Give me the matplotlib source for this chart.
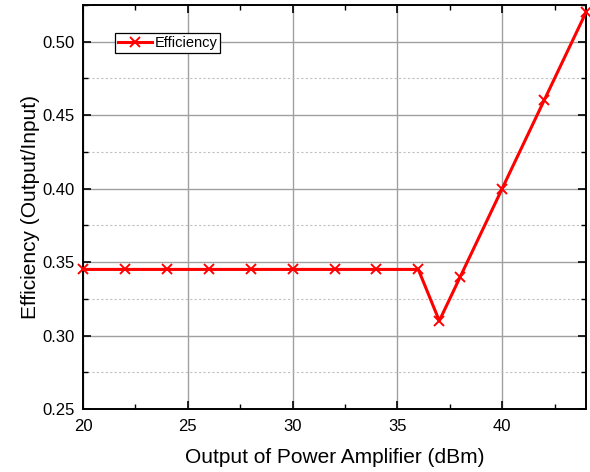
import matplotlib

matplotlib.use("Agg")
import matplotlib.pyplot as plt
from matplotlib.ticker import MultipleLocator

plt.rcParams["font.family"] = ["Liberation Sans", "DejaVu Sans"]

power_dbm = [20, 22, 24, 26, 28, 30, 32, 34, 36, 37, 38, 40, 42, 44]
efficiency = [0.345, 0.345, 0.345, 0.345, 0.345, 0.345, 0.345, 0.345, 0.345,
              0.31, 0.34, 0.40, 0.46, 0.52]

fig = plt.figure(figsize=(5.9, 4.72), dpi=100)
ax = fig.add_axes([0.1407, 0.1335, 0.8525, 0.8559])

ax.plot(power_dbm, efficiency, color="red", linewidth=2.2, marker="x",
        markersize=7, markeredgewidth=1.4, label="Efficiency", clip_on=False, zorder=3)

ax.set_xlim(20, 44)
ax.set_ylim(0.25, 0.525)
ax.xaxis.set_major_locator(MultipleLocator(5))
ax.xaxis.set_minor_locator(MultipleLocator(2.5))
ax.yaxis.set_major_locator(MultipleLocator(0.05))
ax.yaxis.set_minor_locator(MultipleLocator(0.025))
ax.yaxis.set_major_formatter(matplotlib.ticker.FormatStrFormatter("%.2f"))

ax.grid(which="major", color="#a0a0a0", linewidth=1.0)
ax.grid(which="minor", axis="y", color="#c0c0c0", linewidth=0.8, linestyle=(0, (2, 2)))

ax.tick_params(which="both", direction="in", top=True, right=True, labelsize=12)
ax.tick_params(axis="x", which="major", pad=7)
ax.tick_params(axis="y", which="major", pad=6)
ax.tick_params(which="major", length=6, width=1.2)
ax.tick_params(which="minor", length=3.5, width=1.0)
for sp in ax.spines.values():
    sp.set_linewidth(1.4)

ax.set_xlabel("Output of Power Amplifier (dBm)", fontsize=15, labelpad=10)
ax.set_ylabel("Efficiency (Output/Input)", fontsize=15, labelpad=2)

leg = ax.legend(loc="upper left", bbox_to_anchor=(0.064, 0.931), borderaxespad=0,
                fontsize=10.5, fancybox=False, edgecolor="black", framealpha=1,
                handlelength=2.3, borderpad=0.2, handletextpad=0.2)
leg.get_frame().set_linewidth(0.9)

fig.savefig("out.png", dpi=100)
